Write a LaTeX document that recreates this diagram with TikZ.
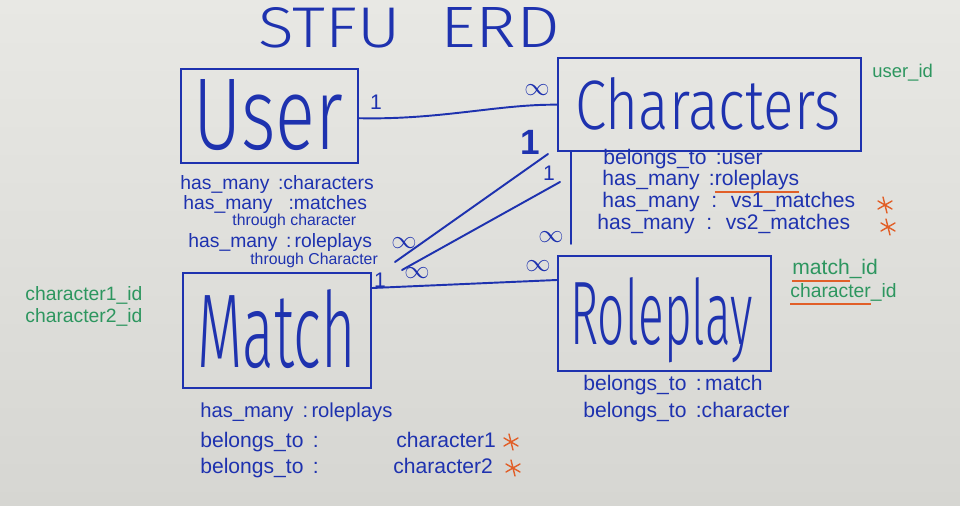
\documentclass[tikz,border=0pt]{standalone}
\usepackage{fontspec}
\setmainfont{Liberation Sans}
\newfontfamily\thinf{Fira Sans}[UprightFont=* Light]
\usepackage{graphicx}
\definecolor{ink}{RGB}{30,50,175}
\definecolor{grn}{RGB}{45,150,95}
\definecolor{org}{RGB}{225,95,40}
\newsavebox\oubox
\newcommand\orul[1]{\sbox\oubox{#1}\rlap{\color{org}\rule[-4pt]{\wd\oubox}{0.9pt}}\usebox\oubox}
\begin{document}
\begin{tikzpicture}[x=0.02cm,y=-0.02cm,
  box/.style={draw=ink,line width=1.4pt,anchor=north west,inner sep=0pt},
  big/.style={text=ink,anchor=base west,inner sep=0pt,font=\thinf},
  conn/.style={draw=ink,line width=1.1pt,line cap=round},
  attr/.style={text=ink,anchor=base west,inner sep=0pt,font=\fontsize{11}{13}\selectfont},
  cattr/.style={attr,font=\fontsize{12}{14}\selectfont},
  small/.style={attr,font=\fontsize{9}{11}\selectfont},
  gtxt/.style={text=grn,anchor=base west,inner sep=0pt,font=\fontsize{11}{13}\selectfont},
  lbl/.style={text=ink,inner sep=0pt,font=\fontsize{12}{12}\selectfont},
  inf/.style={text=ink,inner sep=0pt,font=\fontsize{15}{15}\selectfont},
  star/.pic={\draw[org,line width=0.8pt,line cap=round] (-7,-4)--(7,4) (-7,4)--(7,-4) (-2,-8)--(2,8);}
]
\useasboundingbox (0,0) rectangle (960,506);
\shade[top color={rgb,255:red,232;green,232;blue,228},bottom color={rgb,255:red,214;green,214;blue,210}] (0,0) rectangle (960,506);

% title
\node[big] (t1) at (258,48) {\resizebox{2.84cm}{0.8cm}{STFU}};
\node[big] (t2) at (440,48) {\resizebox{2.4cm}{0.8cm}{ERD}};

% boxes
\node[box,minimum width=3.54cm,minimum height=1.88cm] (user) at (180,68) {};
\node[box,minimum width=6.06cm,minimum height=1.86cm] (chars) at (557,57) {};
\node[box,minimum width=3.76cm,minimum height=2.3cm] (match) at (182,272) {};
\node[box,minimum width=4.26cm,minimum height=2.3cm] (role) at (557,255) {};

\node[big] (userT) at (193,150) {\resizebox{3.0cm}{1.4cm}{User}};
\node[big] (charsT) at (575,130) {\resizebox{5.3cm}{1.04cm}{Characters}};
\node[big] (matchT) at (197,368) {\resizebox{3.16cm}{1.56cm}{Match}};
\node[big] (roleT) at (570,345) {\resizebox{3.64cm}{1.34cm}{Roleplay}};

% connectors
\draw[conn] ([yshift=-0.04cm]user.east) .. controls (440,120) and (500,104) .. (chars.west);
\draw[conn] ([yshift=-0.32cm]match.north east) -- ([yshift=-0.5cm]role.north west);
\draw[conn] ([xshift=0.28cm]chars.south west) -- ([xshift=0.28cm,yshift=0.22cm]role.north west);
\coordinate (mA) at (395,262);
\coordinate (cA) at (548,154);
\coordinate (mB) at (402,270);
\coordinate (cB) at (560,182);
\draw[conn] (mA) -- (cA);
\draw[conn] (mB) -- (cB);

% cardinality labels
\node[lbl] (l1) at (376,102) {1};
\node[inf] (l2) at (537,90) {$\infty$};
\node[lbl,font=\fontsize{20}{20}\selectfont\bfseries] (l3) at (530,142) {1};
\node[lbl] (l4) at (549,173) {1};
\node[inf] (l5) at (404,243) {$\infty$};
\node[inf] (l6) at (417,273) {$\infty$};
\node[inf] (l7) at (551,237) {$\infty$};
\node[inf] (l8) at (538,266) {$\infty$};
\node[lbl] (l9) at (380,280) {1};

% User attributes
\node[attr] (u1) at (180,190) {has\_many \,:characters};
\node[attr] (u2) at (183,210) {has\_many \ \ :matches};
\node[small] (u2b) at (232,226) {through character};
\node[attr] (u3) at (188,248) {has\_many \,:\,roleplays};
\node[small] (u3b) at (250,265) {through Character};

% Characters attributes
\node[cattr] (c1) at (603,165) {belongs\_to \,:user};
\node[cattr] (c2) at (602,186) {has\_many \,:\orul{roleplays}};
\node[cattr] (c3) at (602,208) {has\_many \ : \ vs1\_matches};
\node[cattr] (c4) at (597,230) {has\_many \ : \ vs2\_matches};
\pic at (885,205) {star};
\pic at (888,227) {star};

% Match attributes
\node[attr,font=\fontsize{11.5}{13}\selectfont] (m1) at (200,418) {has\_many \,:\,roleplays};
\node[attr,font=\fontsize{12}{14}\selectfont] (m2) at (200,447) {belongs\_to \,:};
\node[attr,font=\fontsize{12}{14}\selectfont] (m2b) at (396,447) {character1};
\node[attr,font=\fontsize{12}{14}\selectfont] (m3) at (200,473) {belongs\_to \,:};
\node[attr,font=\fontsize{12}{14}\selectfont] (m3b) at (393,473) {character2};
\pic at (511,442) {star};
\pic at (513,468) {star};

% Roleplay attributes
\node[cattr] (r1) at (583,391) {belongs\_to \,:\,match};
\node[cattr] (r2) at (583,418) {belongs\_to \,:character};

% green keys
\node[gtxt,font=\fontsize{10.5}{12}\selectfont] (g1) at (872,78) {user\_id};
\node[gtxt] (g2) at (25,301) {character1\_id};
\node[gtxt] (g3) at (25,323) {character2\_id};
\node[gtxt,font=\fontsize{12}{14}\selectfont] (g4) at (792,275) {\orul{match}\_id};
\node[gtxt] (g5) at (790,298) {\orul{character}\_id};
\end{tikzpicture}
\end{document}
